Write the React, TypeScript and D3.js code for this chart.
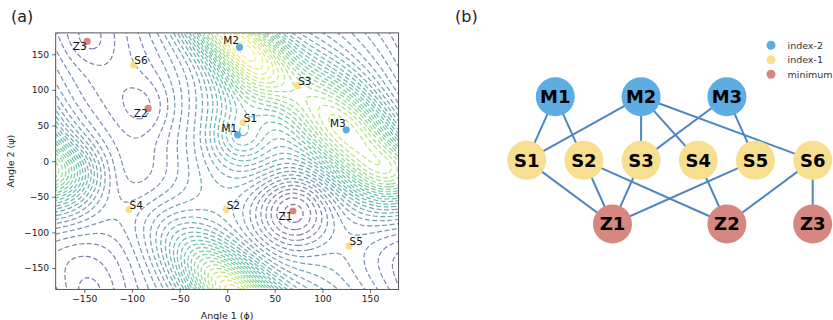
import React, { useEffect, useRef } from "react";
import * as d3 from "d3";

// stationary points
const pointNames = ["M1", "M2", "M3", "S1", "S2", "S3", "S4", "S5", "S6", "Z1", "Z2", "Z3"];
const pointPhi = [11, 13, 125, 17, -1, 74, -103, 128, -98, 69, -83, -147];
const pointPsi = [37, 160, 44, 54, -68, 106, -68, -119, 135, -70, 74, 168];

// energy surface, estimated as a sum of periodic gaussian bumps
const baseLevel = 0.4;
const bumpPhi = [69, -83, -147, -120, -160, -100, 8, 128, -175, 11, 18, 35];
const bumpPsi = [-70, 74, 168, 110, -130, -20, 172, 40, -15, 35, 95, 5];
const bumpAmp = [-0.32, -0.08, -0.06, -0.2, -0.2, -0.15, 0.62, 0.58, 0.25, 0.13, 0.2, 0.1];
const bumpLong = [40, 30, 25, 70, 55, 45, 66, 72, 30, 24, 50, 40];
const bumpShort = [30, 22, 20, 55, 50, 45, 26, 33, 28, 20, 26, 35];
const bumpAngle = [90, 90, 90, 90, 0, 0, 125, -60, 0, 90, 90, 0];

const xTicks = [-150, -100, -50, 0, 50, 100, 150];
const yTicks = [-150, -100, -50, 0, 50, 100, 150];

// panel (b) graph
const nodeNames = ["M1", "M2", "M3", "S1", "S2", "S3", "S4", "S5", "S6", "Z1", "Z2", "Z3"];
const nodeLayer = [0, 0, 0, 1, 1, 1, 1, 1, 1, 2, 2, 2];
const nodeCol = [1.5, 3, 4.5, 1, 2, 3, 4, 5, 6, 2.5, 4.5, 6];
const edgeList = [
  ["M1", "S1"], ["M1", "S2"], ["M2", "S1"], ["M2", "S3"], ["M2", "S4"], ["M2", "S6"],
  ["M3", "S3"], ["M3", "S5"], ["S1", "Z1"], ["S2", "Z1"], ["S2", "Z2"], ["S3", "Z1"],
  ["S4", "Z2"], ["S5", "Z1"], ["S6", "Z2"], ["S6", "Z3"],
];
const legendLabels = ["index-2", "index-1", "minimum"];
const typeColors: Record<string, string> = { M: "#5dade2", S: "#f8de8f", Z: "#d6877f" };
const legendColors = [typeColors.M, typeColors.S, typeColors.Z];

const FONT = "DejaVu Sans, sans-serif";

function energy(phi: number, psi: number) {
  let v = baseLevel;
  for (let i = 0; i < bumpPhi.length; i++) {
    const a = (bumpAngle[i] * Math.PI) / 180;
    const c = Math.cos(a), s = Math.sin(a);
    for (let kx = -1; kx <= 1; kx++) {
      for (let ky = -1; ky <= 1; ky++) {
        const dx = phi - (bumpPhi[i] + 360 * kx);
        const dy = psi - (bumpPsi[i] + 360 * ky);
        const u = dx * c + dy * s;
        const w = -dx * s + dy * c;
        v += bumpAmp[i] * Math.exp(-0.5 * ((u * u) / (bumpLong[i] * bumpLong[i]) + (w * w) / (bumpShort[i] * bumpShort[i])));
      }
    }
  }
  return v;
}

export default function App() {
  const ref = useRef<SVGSVGElement>(null);

  useEffect(() => {
    const svg = d3.select(ref.current);
    svg.selectAll("*").remove();

    // ---------- panel (a) ----------
    const left = 55.7, right = 398.6, top = 32.9, bottom = 289.4;
    const x = d3.scaleLinear().domain([-180, 180]).range([left, right]);
    const y = d3.scaleLinear().domain([-180, 180]).range([bottom, top]);

    const step = 2, lo = -200, n = 201;
    const values: number[] = new Array(n * n);
    for (let j = 0; j < n; j++) {
      const psi = -lo - j * step;
      for (let i = 0; i < n; i++) values[j * n + i] = energy(lo + i * step, psi);
    }
    const vmin = d3.min(values) as number, vmax = d3.max(values) as number;
    const nLevels = 30;
    const levels = d3.range(nLevels).map((k) => vmin + ((vmax - vmin) * (k + 0.5)) / nLevels);
    const contours = d3.contours().size([n, n]).thresholds(levels)(values);
    const color = (v: number) => d3.interpolateViridis(0.12 + 0.88 * (v - vmin) / (vmax - vmin));

    const proj = d3.geoTransform({
      point(px: number, py: number) {
        (this as any).stream.point(x(lo + (px - 0.5) * step), y(-lo - (py - 0.5) * step));
      },
    });
    const path = d3.geoPath(proj);

    svg.append("defs").append("clipPath").attr("id", "plotclip")
      .append("rect").attr("x", left).attr("y", top).attr("width", right - left).attr("height", bottom - top);

    svg.append("g").attr("clip-path", "url(#plotclip)")
      .selectAll("path").data(contours).enter().append("path")
      .attr("d", (d: any) => path(d))
      .attr("fill", "none")
      .attr("stroke", (d: any) => color(d.value))
      .attr("stroke-opacity", 0.68)
      .attr("stroke-width", 1.2)
      .attr("stroke-dasharray", "5 2.5");

    // stationary points
    const pts = pointNames.map((name, i) => ({ name, phi: pointPhi[i], psi: pointPsi[i] }));
    svg.append("g").selectAll("circle").data(pts).enter().append("circle")
      .attr("cx", (d) => x(d.phi)).attr("cy", (d) => y(d.psi)).attr("r", 3.6)
      .attr("fill", (d) => typeColors[d.name[0]]);
    svg.append("g").selectAll("text").data(pts).enter().append("text")
      .attr("x", (d) => x(d.phi) + (d.name[0] === "S" ? 0.5 : -0.5))
      .attr("y", (d) => y(d.psi) + (d.name[0] === "S" ? -0.5 : d.name[0] === "M" ? -3 : 8.5))
      .attr("text-anchor", (d) => (d.name[0] === "S" ? "start" : "end"))
      .attr("font-family", FONT).attr("font-size", 10.5).attr("fill", "#111")
      .text((d) => d.name);

    // frame and axes
    svg.append("rect").attr("x", left).attr("y", top).attr("width", right - left).attr("height", bottom - top)
      .attr("fill", "none").attr("stroke", "#444").attr("stroke-width", 0.9);

    const xAxis = svg.append("g").attr("transform", `translate(0,${bottom})`)
      .call(d3.axisBottom(x).tickValues(xTicks).tickSize(3.5).tickSizeOuter(0).tickFormat((d) => d3.format("d")(d as number).replace("-", "\u2212")));
    const yAxis = svg.append("g").attr("transform", `translate(${left},0)`)
      .call(d3.axisLeft(y).tickValues(yTicks).tickSize(3.5).tickSizeOuter(0).tickFormat((d) => d3.format("d")(d as number).replace("-", "\u2212")));
    [xAxis, yAxis].forEach((g) => {
      g.select(".domain").remove();
      g.selectAll("line").attr("stroke", "#444").attr("stroke-width", 0.8);
      g.selectAll("text").attr("font-family", FONT).attr("font-size", 9.2).attr("fill", "#222");
    });
    xAxis.selectAll("text").attr("dy", "0.71em").attr("y", 6);

    svg.append("text").attr("x", (left + right) / 2).attr("y", 318.5).attr("text-anchor", "middle")
      .attr("font-family", FONT).attr("font-size", 9.5).attr("fill", "#222").text("Angle 1 (\u03d5)");
    svg.append("text").attr("transform", `translate(14,${(top + bottom) / 2}) rotate(-90)`).attr("text-anchor", "middle")
      .attr("font-family", FONT).attr("font-size", 9.5).attr("fill", "#222").text("Angle 2 (\u03c8)");

    svg.append("text").attr("x", 11).attr("y", 22).attr("font-family", FONT).attr("font-size", 16).attr("fill", "#222").text("(a)");

    // ---------- panel (b) ----------
    svg.append("text").attr("x", 455).attr("y", 22).attr("font-family", FONT).attr("font-size", 16).attr("fill", "#222").text("(b)");

    const gx = d3.scaleLinear().domain([1, 6]).range([526.7, 812.7]);
    const gy = d3.scaleLinear().domain([0, 2]).range([96.7, 224]);
    const nodes = nodeNames.map((name, i) => ({ name, cx: gx(nodeCol[i]), cy: gy(nodeLayer[i]) }));
    const byName = new Map(nodes.map((d) => [d.name, d]));

    svg.append("g").selectAll("line").data(edgeList).enter().append("line")
      .attr("x1", (d) => byName.get(d[0])!.cx).attr("y1", (d) => byName.get(d[0])!.cy)
      .attr("x2", (d) => byName.get(d[1])!.cx).attr("y2", (d) => byName.get(d[1])!.cy)
      .attr("stroke", "#4d86bf").attr("stroke-width", 2);

    const node = svg.append("g").selectAll("g").data(nodes).enter().append("g")
      .attr("transform", (d) => `translate(${d.cx},${d.cy})`);
    node.append("circle").attr("r", 19.5).attr("fill", (d) => typeColors[d.name[0]]);
    node.append("text").attr("text-anchor", "middle").attr("dy", "0.36em")
      .attr("font-family", FONT).attr("font-weight", "bold").attr("font-size", 18).attr("fill", "#000")
      .text((d) => d.name);

    const legend = svg.append("g").selectAll("g").data(legendLabels).enter().append("g")
      .attr("transform", (d, i) => `translate(771,${45.3 + i * 14.5})`);
    legend.append("circle").attr("r", 4.5).attr("fill", (d, i) => legendColors[i]);
    legend.append("text").attr("x", 16.5).attr("dy", "0.35em").attr("font-family", FONT).attr("font-size", 9.5)
      .attr("fill", "#333").text((d) => d);
  }, []);

  return (
    <svg ref={ref} width={833} height={320} style={{ position: "absolute", left: 0, top: 0, background: "#fff" }} />
  );
}
